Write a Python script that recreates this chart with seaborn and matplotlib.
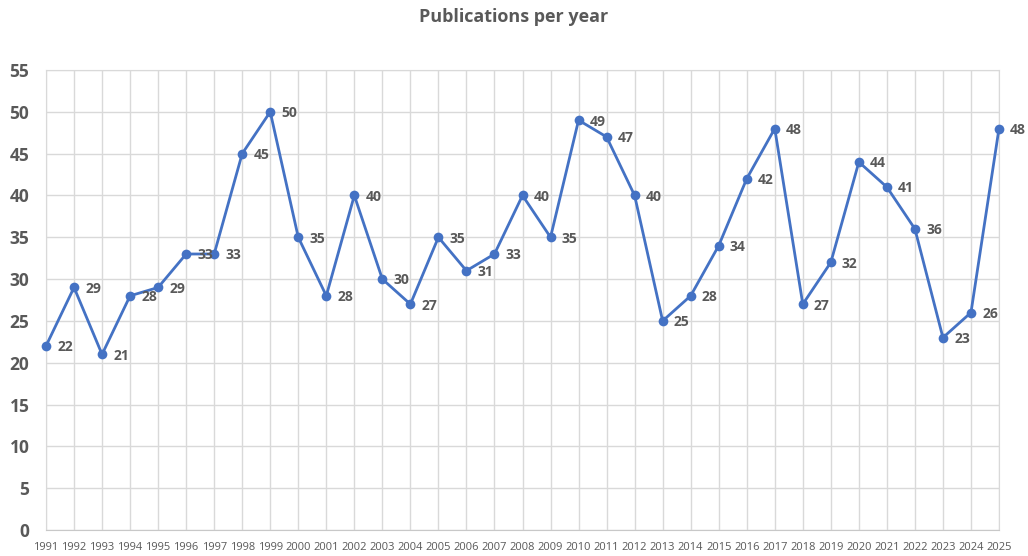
import pandas as pd
import matplotlib
matplotlib.use("Agg")
import matplotlib.pyplot as plt
import seaborn as sns

# data
years = list(range(1991, 2026))
publications = [22, 29, 21, 28, 29, 33, 33, 45, 50, 35, 28, 40, 30, 27, 35, 31, 33,
                40, 35, 49, 47, 40, 25, 28, 34, 42, 48, 27, 32, 44, 41, 36, 23, 26, 48]
y_ticks = list(range(0, 60, 5))

df = pd.DataFrame({"Year": years, "Publications": publications})

sns.set_style("white")
plt.rcParams["font.family"] = ["Open Sans", "DejaVu Sans"]

text_gray = "#595959"
grid_gray = "#d9d9d9"
line_blue = "#4472C4"

fig = plt.figure(figsize=(10.28, 5.56), dpi=100)
ax = fig.add_axes([46 / 1028, 26 / 556, 953 / 1028, 460 / 556])

sns.lineplot(data=df, x="Year", y="Publications", ax=ax, color=line_blue,
             linewidth=2, marker="o", markersize=7, markeredgewidth=0,
             clip_on=False, zorder=3)

# data labels to the right of each point
for yr, val in zip(df["Year"], df["Publications"]):
    ax.annotate(str(val), (yr, val), xytext=(8, -1), textcoords="offset points",
                ha="left", va="center", fontsize=10, fontweight="bold",
                color=text_gray, zorder=4)

ax.set_xlim(years[0], years[-1])
ax.set_ylim(0, 55)
ax.set_xticks(years)
ax.set_xticklabels([str(y) for y in years], fontsize=8, color=text_gray)
ax.set_yticks(y_ticks)
ax.set_yticklabels([str(t) for t in y_ticks], fontsize=12.5, fontweight="bold", color=text_gray)
ax.tick_params(axis="both", length=0)
ax.tick_params(axis="x", pad=9)
ax.tick_params(axis="y", pad=12)

ax.grid(True, color=grid_gray, linewidth=1)
ax.set_axisbelow(True)
for side in ["top", "right", "left"]:
    ax.spines[side].set_color(grid_gray)
ax.spines["bottom"].set_color("#c8c8c8")
ax.set_xlabel("")
ax.set_ylabel("")

fig.text(0.5, 1 - 17 / 556, "Publications per year", ha="center", va="center",
         fontsize=13, fontweight="bold", color=text_gray)

fig.savefig("out.png", dpi=100)
